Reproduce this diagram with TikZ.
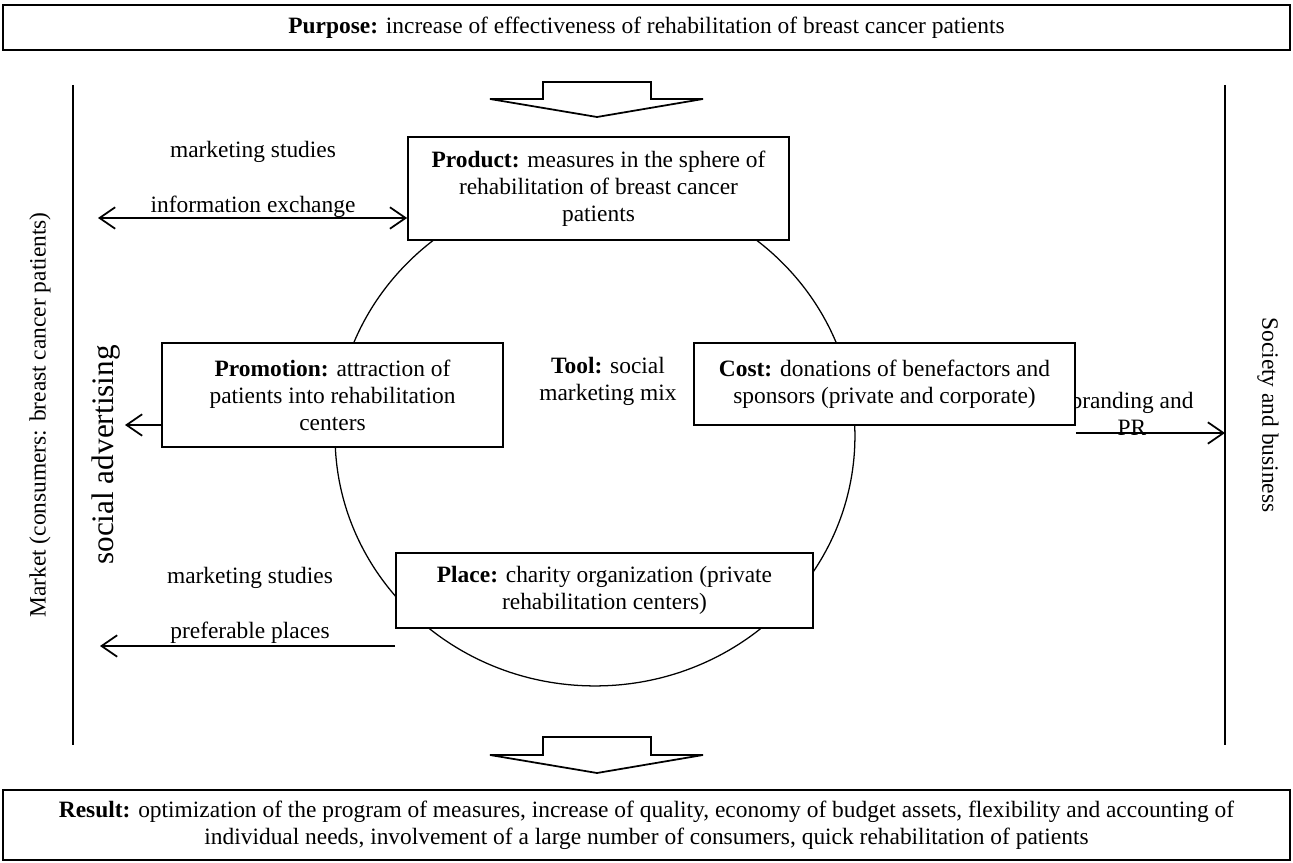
\documentclass[tikz,border=0pt]{standalone}
\usepackage{fontspec}
\setmainfont{Liberation Serif}
\usetikzlibrary{shapes.geometric,arrows.meta,positioning}

\begin{document}
\begin{tikzpicture}[
        x=0.018cm, y=-0.018cm,
        every node/.style={font=\fontsize{12}{13.8}\selectfont},
        box/.style={rectangle, draw, line width=0.9pt, fill=white, align=center, inner sep=2pt},
        wide/.style={box, minimum width=23.17cm},
        note/.style={align=center, inner sep=1pt},
        sidetext/.style={inner sep=1pt},
        mixring/.style={ellipse, draw, line width=0.65pt, minimum width=9.36cm, minimum height=9cm, inner sep=0pt},
        rule/.style={line width=0.9pt},
        arrow/.style={line width=0.9pt, -{Straight Barb[length=8pt,width=11pt]}},
        dblarrow/.style={arrow, {Straight Barb[length=8pt,width=11pt]}-{Straight Barb[length=8pt,width=11pt]}},
        bigarrow/.style={line width=0.9pt, line join=miter}
    ]
    \useasboundingbox (0,0) rectangle (1293,863);

    % purpose and result
    \node[wide, minimum height=0.81cm] (purpose) at (646.5,27.5) {\textbf{Purpose:} increase of effectiveness of rehabilitation of breast cancer patients};
    \node[wide, minimum height=1.26cm] (result) at (646.5,825) {\textbf{Result:} optimization of the program of measures, increase of quality, economy of budget assets, flexibility and accounting of\\individual needs, involvement of a large number of consumers, quick rehabilitation of patients};

    % big arrows
    \coordinate (inTop) at (490,99);
    \draw[bigarrow] (inTop) -- ++(53,0) -- ++(0,-17) -- ++(108,0) -- ++(0,17) -- ++(52,0) -- ++(-106,18) -- cycle;
    \coordinate (inBot) at (490,755);
    \draw[bigarrow] (inBot) -- ++(53,0) -- ++(0,-18) -- ++(108,0) -- ++(0,18) -- ++(52,0) -- ++(-106,18) -- cycle;

    % market and society
    \coordinate (mktTop) at (73,85);
    \coordinate (mktBot) at (73,745);
    \coordinate (socTop) at (1225,85);
    \coordinate (socBot) at (1225,745);
    \draw[rule] (mktTop) -- (mktBot);
    \draw[rule] (socTop) -- (socBot);
    \node[sidetext, rotate=90] (market) at (40,415) {Market (consumers: breast cancer patients)};
    \node[sidetext, rotate=90, font=\fontsize{16}{18}\selectfont] (socadv) at (106,455) {social advertising};
    \node[sidetext, rotate=-90] (society) at (1268,415) {Society and business};

    % marketing mix
    \node[mixring] (mix) at (595,436) {};
    \node[note] (tool) at (608,381) {\textbf{Tool:} social\\marketing mix};
    \node[note] (branding) at (1132,414) {branding and\\PR};

    \node[box, minimum width=6.86cm, minimum height=1.85cm] (product) at (598.5,188.5) {\textbf{Product:} measures in the sphere of\\rehabilitation of breast cancer\\patients};
    \node[box, minimum width=6.14cm, minimum height=1.87cm] (promotion) at (332.5,395) {\textbf{Promotion:} attraction of\\patients into rehabilitation\\centers};
    \node[box, minimum width=6.86cm, minimum height=1.48cm] (cost) at (884.5,384) {\textbf{Cost:} donations of benefactors and\\sponsors (private and corporate)};
    \node[box, minimum width=7.51cm, minimum height=1.35cm] (place) at (604.5,590.5) {\textbf{Place:} charity organization (private\\rehabilitation centers)};

    % texts by the arrows
    \node[note] (mstop) at (253,152) {marketing studies};
    \node[note] (infoex) at (253,207) {information exchange};
    \node[note] (msbot) at (250,578) {marketing studies};
    \node[note] (prefpl) at (250,633) {preferable places};

    % arrows
    \coordinate (infoL) at (98,218);
    \draw[dblarrow] (infoL) -- (infoL -| product.west);
    \coordinate (promoL) at (125,425);
    \draw[arrow] (promoL -| promotion.west) -- (promoL);
    \coordinate (placeL) at (100,646);
    \draw[arrow] (placeL -| place.west) -- (placeL);
    \coordinate (brandR) at (1225,433);
    \draw[arrow] (brandR -| cost.east) -- (brandR);
\end{tikzpicture}
\end{document}
